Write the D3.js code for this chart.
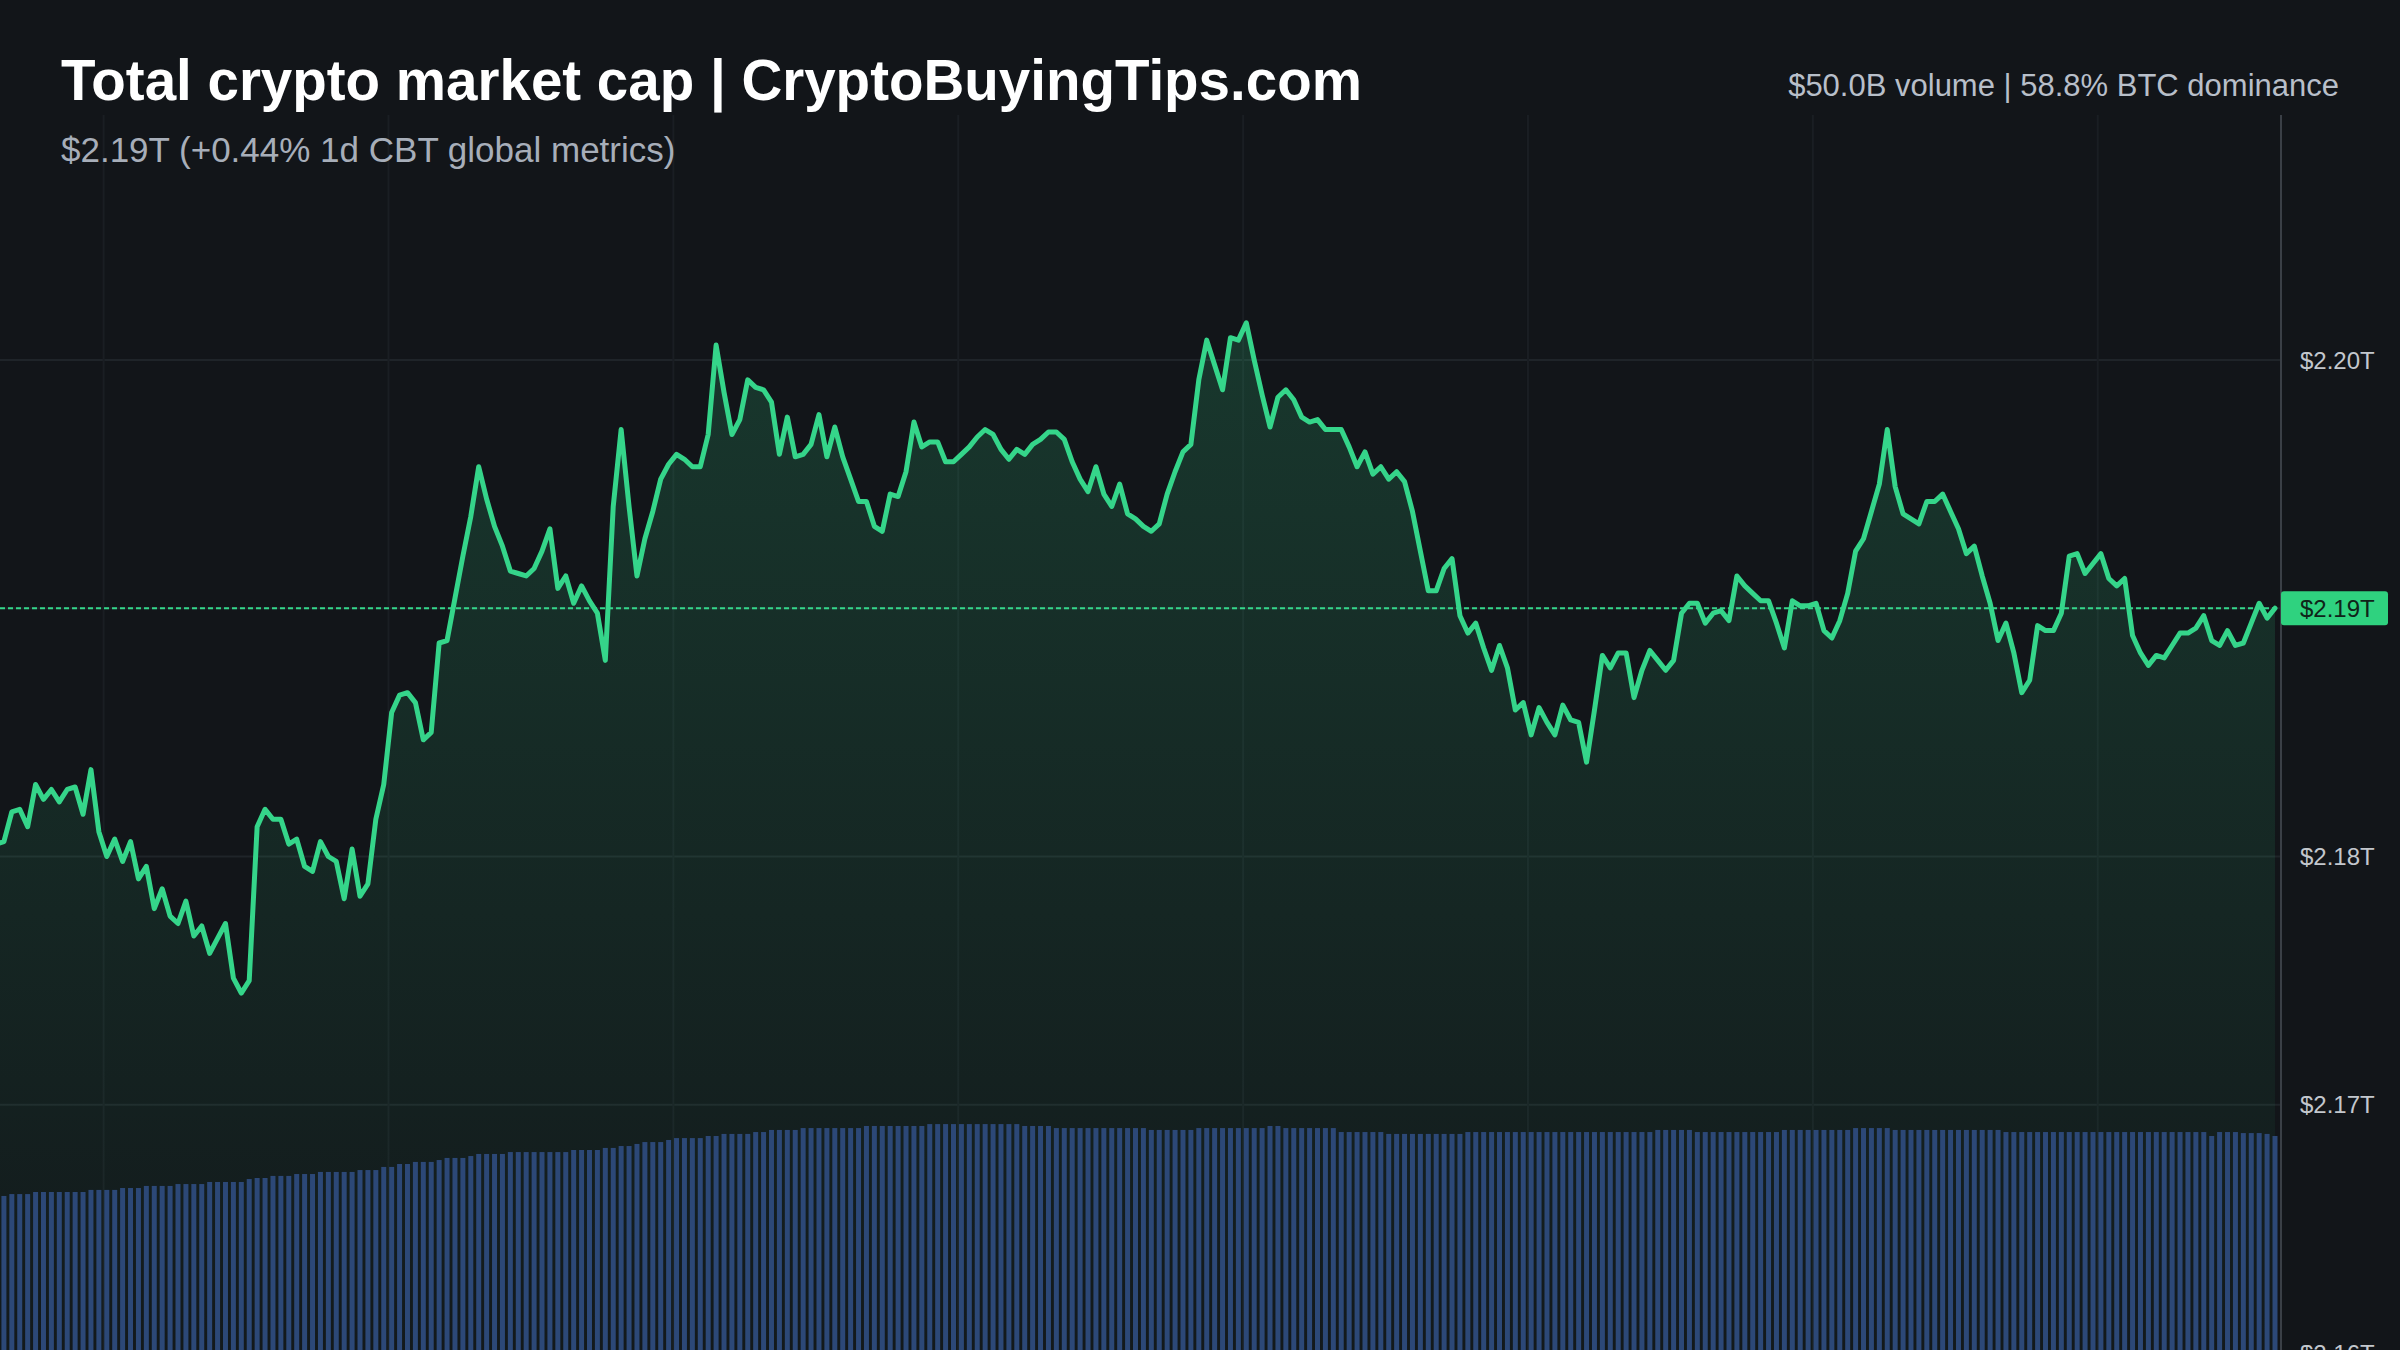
<!DOCTYPE html>
<html>
<head>
<meta charset="utf-8">
<script src="https://cdn.jsdelivr.net/npm/d3@7"></script>
<style>
  html, body { margin: 0; padding: 0; background: #121519; }
  svg { display: block; font-family: "Liberation Sans", Arial, sans-serif; }
</style>
</head>
<body>
<script>
var width = 2400, height = 1350;

var title = "Total crypto market cap | CryptoBuyingTips.com";
var subtitle = "$2.19T (+0.44% 1d CBT global metrics)";
var headerRight = "$50.0B volume | 58.8% BTC dominance";

// 5 minute samples over one day
var startTime = new Date(2024, 4, 20, 22, 52);
var stepMinutes = 5;

// total market cap, trillions USD
var cap = [
  2.1805, 2.1806, 2.1818, 2.1819, 2.1812, 2.1829, 2.1823, 2.1827, 2.1822, 2.1827,
  2.1828, 2.1817, 2.1835, 2.1810, 2.1800, 2.1807, 2.1798, 2.1806, 2.1791, 2.1796,
  2.1779, 2.1787, 2.1776, 2.1773, 2.1782, 2.1768, 2.1772, 2.1761, 2.1767, 2.1773,
  2.1751, 2.1745, 2.1750, 2.1812, 2.1819, 2.1815, 2.1815, 2.1805, 2.1807, 2.1796,
  2.1794, 2.1806, 2.1800, 2.1798, 2.1783, 2.1803, 2.1784, 2.1789, 2.1815, 2.1829,
  2.1858, 2.1865,
  2.1866, 2.1862, 2.1847, 2.1850, 2.1886, 2.1887, 2.1904, 2.1921, 2.1937, 2.1957,
  2.1944, 2.1933, 2.1925, 2.1915, 2.1914, 2.1913, 2.1916, 2.1923, 2.1932, 2.1908,
  2.1913, 2.1902, 2.1909, 2.1903, 2.1898, 2.1879, 2.1941, 2.1972, 2.1941, 2.1913,
  2.1928, 2.1939, 2.1952, 2.1958, 2.1962, 2.1960, 2.1957, 2.1957, 2.1970, 2.2006,
  2.1987, 2.1970, 2.1976, 2.1992, 2.1989, 2.1988, 2.1983, 2.1962, 2.1977, 2.1961,
  2.1962,
  2.1966, 2.1978, 2.1961, 2.1973, 2.1961, 2.1952, 2.1943, 2.1943, 2.1933, 2.1931,
  2.1946, 2.1945, 2.1955, 2.1975, 2.1965, 2.1967, 2.1967, 2.1959, 2.1959, 2.1962,
  2.1965, 2.1969, 2.1972, 2.1970, 2.1964, 2.1960, 2.1964, 2.1962, 2.1966, 2.1968,
  2.1971, 2.1971, 2.1968, 2.1959, 2.1952, 2.1947, 2.1957, 2.1946, 2.1941, 2.1950,
  2.1938, 2.1936, 2.1933, 2.1931, 2.1934, 2.1946, 2.1955, 2.1963, 2.1966, 2.1992,
  2.2008, 2.1998, 2.1988, 2.2009, 2.2008, 2.2015, 2.2000, 2.1986, 2.1973, 2.1985,
  2.1988, 2.1984, 2.1977, 2.1975, 2.1976, 2.1972, 2.1972, 2.1972, 2.1965, 2.1957,
  2.1963, 2.1954, 2.1957, 2.1952, 2.1955, 2.1951, 2.1939, 2.1923, 2.1907, 2.1907,
  2.1916, 2.1920, 2.1897, 2.1890, 2.1894, 2.1884, 2.1875, 2.1885, 2.1876, 2.1859,
  2.1862, 2.1849, 2.1860, 2.1854, 2.1849, 2.1861, 2.1855, 2.1854, 2.1838, 2.1859,
  2.1881,
  2.1876, 2.1882, 2.1882, 2.1864, 2.1875, 2.1883, 2.1879, 2.1875, 2.1879, 2.1898,
  2.1902, 2.1902, 2.1894, 2.1898, 2.1899, 2.1895, 2.1913, 2.1909, 2.1906, 2.1903,
  2.1903, 2.1894, 2.1884, 2.1903, 2.1901, 2.1901, 2.1902, 2.1891, 2.1888, 2.1895,
  2.1906, 2.1923, 2.1928, 2.1939, 2.1950, 2.1972, 2.1949, 2.1938, 2.1936, 2.1934,
  2.1943, 2.1943, 2.1946, 2.1939, 2.1932, 2.1922, 2.1925, 2.1913, 2.1902, 2.1887,
  2.1894, 2.1882, 2.1866, 2.1871, 2.1893, 2.1891, 2.1891, 2.1898, 2.1921, 2.1922,
  2.1914, 2.1918, 2.1922, 2.1912, 2.1909, 2.1912, 2.1889, 2.1882, 2.1877, 2.1881,
  2.1880, 2.1885, 2.1890, 2.1890, 2.1892, 2.1897, 2.1887, 2.1885, 2.1891, 2.1885,
  2.1886, 2.1894, 2.1902, 2.1896, 2.1900
];

// rolling volume, billions USD
var volume = [
  46.53, 46.53, 46.64, 46.64, 46.64, 46.76, 46.76, 46.76, 46.76, 46.76,
  46.76, 46.76, 46.88, 46.88, 46.88, 46.88, 46.99, 46.99, 46.99, 47.11,
  47.11, 47.11, 47.11, 47.22, 47.22, 47.22, 47.22, 47.34, 47.34, 47.34,
  47.34, 47.34, 47.51, 47.57, 47.57, 47.69, 47.69, 47.69, 47.80, 47.80,
  47.80, 47.92, 47.92, 47.92, 47.92, 47.92, 48.03, 48.03, 48.03, 48.21,
  48.21, 48.38, 48.38, 48.50, 48.50, 48.50, 48.61, 48.73, 48.73, 48.73,
  48.84, 48.96, 48.96, 48.96, 48.96, 49.07, 49.07, 49.07, 49.07, 49.07,
  49.07, 49.07, 49.07, 49.19, 49.19, 49.19, 49.19, 49.31, 49.31, 49.42,
  49.42, 49.54, 49.65, 49.65, 49.65, 49.77, 49.88, 49.88, 49.88, 49.88,
  50.00, 50.00, 50.12, 50.12, 50.12, 50.12, 50.23, 50.23, 50.35, 50.35,
  50.35, 50.35, 50.46, 50.46, 50.46, 50.46, 50.46, 50.46, 50.46, 50.46,
  50.58, 50.58, 50.58, 50.58, 50.58, 50.58, 50.58, 50.58, 50.69, 50.69,
  50.69, 50.69, 50.69, 50.69, 50.69, 50.69, 50.69, 50.69, 50.69, 50.69,
  50.58, 50.58, 50.58, 50.58, 50.46, 50.46, 50.46, 50.46, 50.46, 50.46,
  50.46, 50.46, 50.46, 50.46, 50.46, 50.46, 50.35, 50.35, 50.35, 50.35,
  50.35, 50.35, 50.46, 50.46, 50.46, 50.46, 50.46, 50.46, 50.46, 50.46,
  50.46, 50.58, 50.58, 50.46, 50.46, 50.46, 50.46, 50.46, 50.46, 50.46,
  50.23, 50.23, 50.23, 50.23, 50.23, 50.23, 50.12, 50.12, 50.12, 50.12,
  50.12, 50.12, 50.12, 50.12, 50.12, 50.12, 50.23, 50.23, 50.23, 50.23,
  50.23, 50.23, 50.23, 50.23, 50.23, 50.23, 50.23, 50.23, 50.23, 50.23,
  50.23, 50.23, 50.23, 50.23, 50.23, 50.23, 50.23, 50.23, 50.23, 50.23,
  50.35, 50.35, 50.35, 50.35, 50.35, 50.23, 50.23, 50.23, 50.23, 50.23,
  50.23, 50.23, 50.23, 50.23, 50.23, 50.23, 50.35, 50.35, 50.35, 50.35,
  50.35, 50.35, 50.35, 50.35, 50.35, 50.46, 50.46, 50.46, 50.46, 50.46,
  50.35, 50.35, 50.35, 50.35, 50.35, 50.35, 50.35, 50.35, 50.35, 50.35,
  50.35, 50.35, 50.35, 50.35, 50.23, 50.23, 50.23, 50.23, 50.23, 50.23,
  50.23, 50.23, 50.23, 50.23, 50.23, 50.23, 50.23, 50.23, 50.23, 50.23,
  50.23, 50.23, 50.23, 50.23, 50.23, 50.23, 50.23, 50.23, 50.23, 50.23,
  50.00, 50.23, 50.23, 50.23, 50.17, 50.17, 50.17, 50.12, 50.00
];

var yTicks = [2.16, 2.17, 2.18, 2.19, 2.20];

var data = cap.map(function(v, i) {
  return { t: d3.timeMinute.offset(startTime, i * stepMinutes), v: v, vol: volume[i] };
});
var lastPrice = cap[cap.length - 1];

var axisX = 2281;

var x = d3.scaleTime()
  .domain([data[0].t, data[data.length - 1].t])
  .range([-4, 2275]);

var y = d3.scaleLinear()
  .domain([2.16, 2.20])
  .range([1353, 360]);

var yVol = d3.scaleLinear()
  .domain([0, 50])
  .range([2000, 1136]);

var fmt = function(v) { return "$" + v.toFixed(2) + "T"; };

var svg = d3.select("body").append("svg")
  .attr("width", width)
  .attr("height", height);

svg.append("rect")
  .attr("width", width)
  .attr("height", height)
  .attr("fill", "#121519");

var defs = svg.append("defs");
var grad = defs.append("linearGradient")
  .attr("id", "capFill")
  .attr("x1", 0).attr("y1", 0).attr("x2", 0).attr("y2", 1);
grad.append("stop").attr("offset", "0%").attr("stop-color", "#34d68a").attr("stop-opacity", 0.18);
grad.append("stop").attr("offset", "100%").attr("stop-color", "#34d68a").attr("stop-opacity", 0.02);

// grid
svg.append("g")
  .selectAll("line")
  .data(yTicks)
  .enter()
  .append("line")
  .attr("x1", 0)
  .attr("x2", axisX)
  .attr("y1", function(d) { return y(d); })
  .attr("y2", function(d) { return y(d); })
  .attr("stroke", "#1f2429")
  .attr("stroke-width", 2);

svg.append("g")
  .selectAll("line")
  .data(x.ticks(d3.timeHour.every(3)))
  .enter()
  .append("line")
  .attr("x1", function(d) { return x(d); })
  .attr("x2", function(d) { return x(d); })
  .attr("y1", 115)
  .attr("y2", height)
  .attr("stroke", "#1a1e23")
  .attr("stroke-width", 2);

// area under the line
svg.append("path")
  .datum(data)
  .attr("fill", "url(#capFill)")
  .attr("d", d3.area()
    .x(function(d) { return x(d.t); })
    .y0(height)
    .y1(function(d) { return y(d.v); }));

// volume bars
svg.append("g")
  .selectAll("rect")
  .data(data)
  .enter()
  .append("rect")
  .attr("x", function(d) { return x(d.t) - 2.5; })
  .attr("width", 5)
  .attr("y", function(d) { return yVol(d.vol); })
  .attr("height", function(d) { return yVol(0) - yVol(d.vol); })
  .attr("fill", "#2c4877");

// price line
svg.append("path")
  .datum(data)
  .attr("fill", "none")
  .attr("stroke", "#35d58a")
  .attr("stroke-width", 5)
  .attr("stroke-linejoin", "round")
  .attr("stroke-linecap", "round")
  .attr("d", d3.line()
    .x(function(d) { return x(d.t); })
    .y(function(d) { return y(d.v); }));

// last price marker
svg.append("line")
  .attr("x1", 0)
  .attr("x2", axisX)
  .attr("y1", y(lastPrice))
  .attr("y2", y(lastPrice))
  .attr("stroke", "#34d68a")
  .attr("stroke-width", 2.2)
  .attr("stroke-dasharray", "5,3");

// right axis
svg.append("line")
  .attr("x1", axisX).attr("x2", axisX)
  .attr("y1", 115).attr("y2", height)
  .attr("stroke", "#3a3f46")
  .attr("stroke-width", 2);

svg.append("g")
  .selectAll("text")
  .data(yTicks)
  .enter()
  .append("text")
  .attr("x", 2300)
  .attr("y", function(d) { return y(d); })
  .attr("dy", "0.36em")
  .attr("fill", "#c3c7cd")
  .style("font-size", "24px")
  .text(fmt);

var tag = svg.append("g")
  .attr("transform", "translate(" + axisX + "," + y(lastPrice) + ")");
tag.append("rect")
  .attr("x", 0)
  .attr("y", -17)
  .attr("width", 107)
  .attr("height", 34)
  .attr("rx", 3)
  .attr("fill", "#2fd27f");
tag.append("text")
  .attr("x", 19)
  .attr("dy", "0.36em")
  .attr("fill", "#0f2419")
  .style("font-size", "24px")
  .text(fmt(lastPrice));

// header
svg.append("text")
  .attr("x", 61)
  .attr("y", 100)
  .attr("fill", "#ffffff")
  .style("font-size", "56.5px")
  .style("font-weight", "bold")
  .text(title);

svg.append("text")
  .attr("x", 61)
  .attr("y", 162)
  .attr("fill", "#a7aeb9")
  .style("font-size", "35px")
  .text(subtitle);

svg.append("text")
  .attr("x", 2339)
  .attr("y", 96)
  .attr("text-anchor", "end")
  .attr("fill", "#b8bfc9")
  .style("font-size", "31px")
  .text(headerRight);
</script>
</body>
</html>
